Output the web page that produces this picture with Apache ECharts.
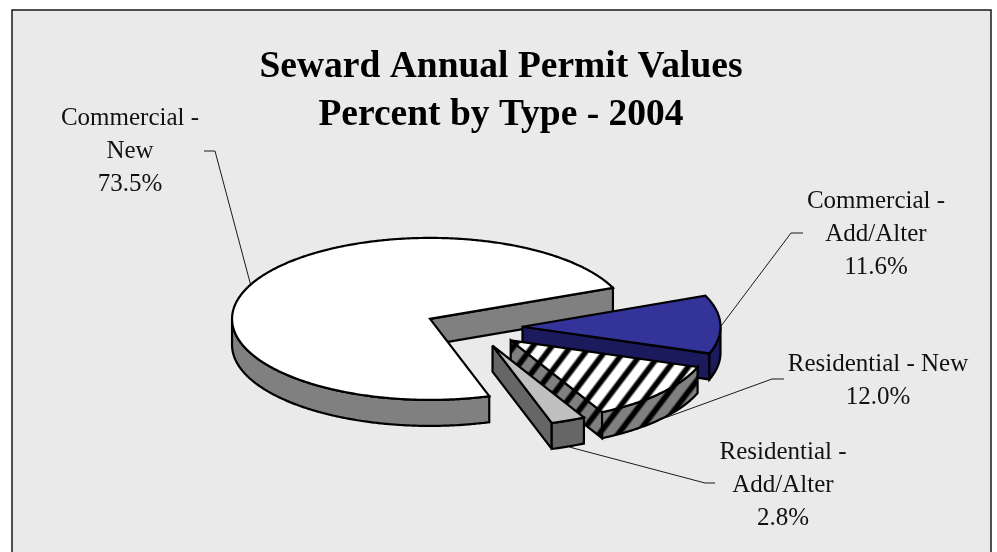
<!DOCTYPE html>
<html><head><meta charset="utf-8">
<style>html,body{margin:0;padding:0;background:#fff}#c{width:997px;height:552px}</style>
<script src="https://cdn.jsdelivr.net/npm/echarts@6/dist/echarts.min.js"></script>
</head><body><div id="c"></div>
<script>
const categories = ['Commercial - New', 'Commercial - Add/Alter', 'Residential - New', 'Residential - Add/Alter'];
const values = [73.5, 11.6, 12.0, 2.8];
const labelLines = [['Commercial -', 'New'], ['Commercial -', 'Add/Alter'], ['Residential - New'], ['Residential -', 'Add/Alter']];
const titleText = 'Seward Annual Permit Values\nPercent by Type - 2004';

const FONT = '"Liberation Serif","Times New Roman",serif';
const C = {x: 474, y: 327.3, rx: 198, ry: 81, depth: 26, explode: 0.245, start: -72.6};
const RAD = Math.PI / 180;

function stripes(base) {
  const W = 19, H = 25, cv = document.createElement('canvas');
  cv.width = W; cv.height = H;
  const ctx = cv.getContext('2d');
  const img = ctx.createImageData(W, H);
  const b = parseInt(base.slice(1, 3), 16);
  for (let y = 0; y < H; y++) for (let x = 0; x < W; x++) {
    const t = (x / W + y / H + 0.65) % 1;
    const d = Math.abs(t - 0.5);
    const k = Math.max(0, Math.min(1, (d - 0.11) / 0.15));
    const v = Math.round(b * k);
    const i = (y * W + x) * 4;
    img.data[i] = img.data[i + 1] = img.data[i + 2] = v;
    img.data[i + 3] = 255;
  }
  ctx.putImageData(img, 0, 0);
  return {image: cv, repeat: 'repeat'};
}

const sliceStyles = [
  {top: '#ffffff', cut: '#808080', wall: '#808080'},
  {top: '#333399', cut: '#1a1a5c', wall: '#1a1a5c'},
  {top: stripes('#ffffff'), cut: stripes('#808080'), wall: stripes('#808080')},
  {top: '#c0c0c0', cut: '#666666', wall: '#666666'}
];
const annotations = [
  {lx: 130, ly: 118, lead: [[204, 151], [215, 151]], angle: 155, d: 0},
  {lx: 876, ly: 201, lead: [[803, 233], [791, 233]], angle: 0, d: 0},
  {lx: 878, ly: 364, lead: [[784, 379], [772, 379]], angle: -38.5, d: 27},
  {lx: 783, ly: 452, lead: [[715, 483], [705, 483]], angle: -67, d: 27}
];

const total = values.reduce((a, b) => a + b, 0);
let acc = C.start;
const arcs = values.map(v => {
  const a0 = acc, a1 = acc - v / total * 360;
  acc = a1;
  const mid = (a0 + a1) / 2 * RAD;
  return {a0, a1,
    cx: C.x + C.explode * C.rx * Math.cos(mid),
    cy: C.y - C.explode * C.ry * Math.sin(mid)};
});
const pt = (s, a, dz) => [s.cx + C.rx * Math.cos(a * RAD), s.cy - C.ry * Math.sin(a * RAD) + (dz || 0)];
function arcPts(s, from, to, dz) {
  const out = [], n = Math.max(2, Math.ceil(Math.abs(to - from) / 0.5));
  for (let i = 0; i <= n; i++) out.push(pt(s, from + (to - from) * i / n, dz));
  return out;
}
function frontRange(s) {
  for (let k = -2; k <= 1; k++) {
    const hi = Math.min(s.a0, k * 360), lo = Math.max(s.a1, k * 360 - 180);
    if (hi > lo) return [hi, lo];
  }
  return null;
}
const sty = (fill) => ({fill: fill, stroke: '#000', lineWidth: 2.2, lineJoin: 'miter', miterLimit: 3});

function renderItem(params, api) {
  const i = params.dataIndex, s = arcs[i], st = sliceStyles[i], an = annotations[i];
  const kids = [];
  const end = pt(s, s.a1), apex = [s.cx, s.cy];
  const dApex = [s.cx, s.cy + C.depth], dEnd = pt(s, s.a1, C.depth);
  const attach = pt(s, an.angle, an.d);
  kids.push({type: 'polyline', shape: {points: an.lead.concat([attach])},
    style: {fill: null, stroke: '#1a1a1a', lineWidth: 1}});
  kids.push({type: 'polygon', shape: {points: [apex, end, dEnd, dApex]}, style: sty(st.cut)});
  const fr = frontRange(s);
  if (fr) {
    const top = arcPts(s, fr[0], fr[1], 0), bot = arcPts(s, fr[1], fr[0], C.depth);
    kids.push({type: 'polygon', shape: {points: top.concat(bot)}, style: sty(st.wall)});
  }
  kids.push({type: 'polygon', shape: {points: [apex].concat(arcPts(s, s.a0, s.a1, 0))}, style: sty(st.top)});
  const lines = labelLines[i].concat([api.value(0).toFixed(1) + '%']);
  lines.forEach((t, k) => kids.push({type: 'text', style: {
    text: t, x: an.lx, y: an.ly + k * 33, align: 'center', verticalAlign: 'middle',
    font: '25px ' + FONT, fill: '#111'}}));
  return {type: 'group', children: kids};
}

const chart = echarts.init(document.getElementById('c'), null, {renderer: 'canvas'});
chart.setOption({
  animation: false,
  backgroundColor: '#ffffff',
  graphic: [{type: 'rect', z: -1, shape: {x: 12, y: 10, width: 979, height: 560},
    style: {fill: '#eaeaea', stroke: '#1a1a1a', lineWidth: 1.5}}],
  title: {text: titleText, left: 501, top: 43, padding: 0, textAlign: 'center',
    textStyle: {fontFamily: FONT, fontWeight: 'bold', fontSize: 37.5, lineHeight: 48, color: '#000'}},
  series: [{type: 'custom', coordinateSystem: 'none', renderItem, clip: false,
    data: values.map((v, i) => ({name: categories[i], value: v}))}]
});
</script></body></html>
